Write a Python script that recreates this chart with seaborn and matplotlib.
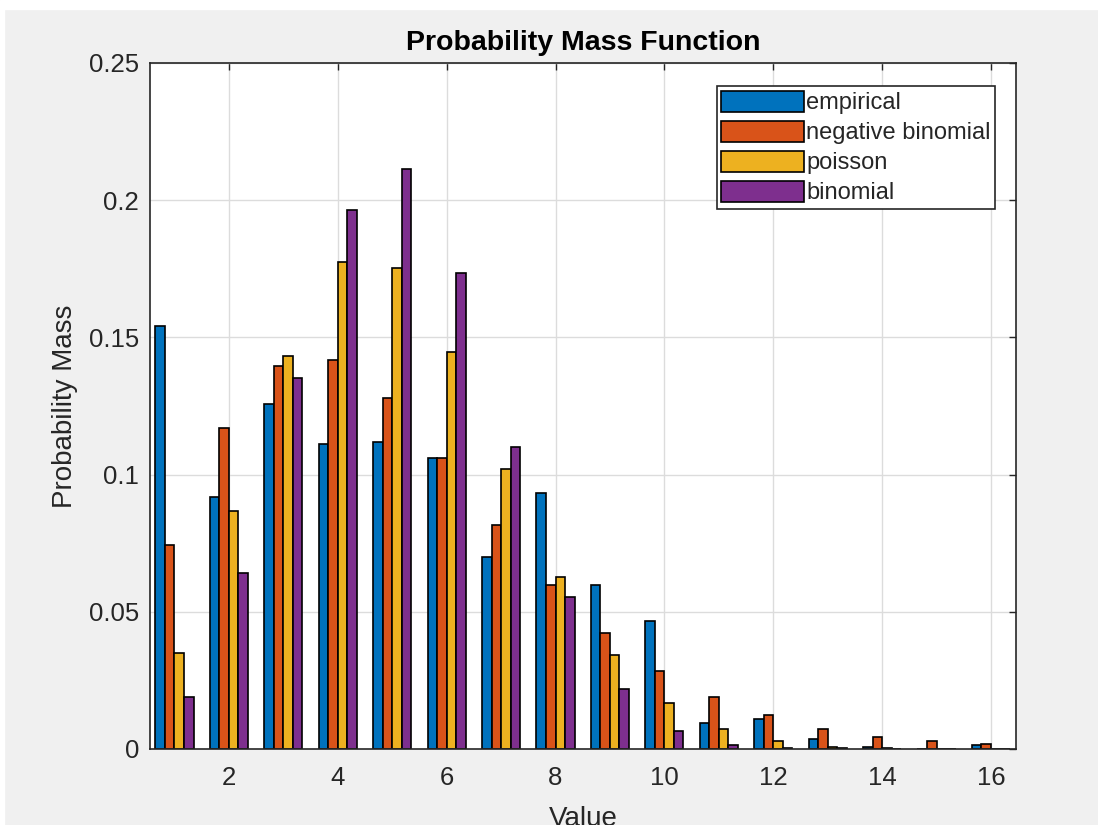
import matplotlib
matplotlib.use("Agg")
import matplotlib.pyplot as plt
import matplotlib.patches as mpatches
import pandas as pd
import seaborn as sns

# PMF values, one list per model
values = list(range(1, 17))
empirical = [0.1542, 0.0920, 0.1256, 0.1110, 0.1117, 0.1059, 0.0700, 0.0933,
             0.0596, 0.0467, 0.0095, 0.0109, 0.0037, 0.0008, 0.0000, 0.0016]
neg_binomial = [0.0744, 0.1170, 0.1395, 0.1418, 0.1279, 0.1059, 0.0816, 0.0596,
                0.0422, 0.0284, 0.0189, 0.0124, 0.0073, 0.0045, 0.0028, 0.0017]
poisson = [0.0350, 0.0869, 0.1431, 0.1776, 0.1753, 0.1448, 0.1021, 0.0626,
           0.0341, 0.0166, 0.0072, 0.0028, 0.0009, 0.0002, 0.0000, 0.0000]
binomial = [0.0190, 0.0643, 0.1352, 0.1966, 0.2112, 0.1734, 0.1100, 0.0554,
            0.0217, 0.0065, 0.0014, 0.0003, 0.0002, 0.0000, 0.0000, 0.0000]
series_names = ["empirical", "negative binomial", "poisson", "binomial"]
colors = ["#0072BD", "#D95319", "#EDB120", "#7E2F8E"]

frames = []
for name, vals in zip(series_names, [empirical, neg_binomial, poisson, binomial]):
    frames.append(pd.DataFrame({"Value": values, "mass": vals, "model": name}))
df = pd.concat(frames, ignore_index=True)

sns.set_style("white")
plt.rcParams["font.family"] = ["Liberation Sans", "DejaVu Sans"]
text_color = "#262626"

fig = plt.figure(figsize=(10.98, 8.25), dpi=100, facecolor="#f0f0f0")
# thin white margin visible at the top and left of the screenshot
fig.patches.append(mpatches.Rectangle((0, 1 - 9 / 825), 1, 9 / 825,
                                      transform=fig.transFigure, color="white", zorder=-1))
fig.patches.append(mpatches.Rectangle((0, 0), 4 / 1098, 1,
                                      transform=fig.transFigure, color="white", zorder=-1))

ax = fig.add_axes([150 / 1098, 1 - 749 / 825, 866 / 1098, 686 / 825])
sns.barplot(
    data=df, x="Value", y="mass", hue="model",
    hue_order=series_names, palette=colors,
    native_scale=True, width=0.7, gap=0, errorbar=None,
    edgecolor="black", linewidth=1.2, saturation=1, ax=ax,
)

ax.set_xlim(0.55, 16.46)
ax.set_ylim(0, 0.25)
ax.set_xticks(range(2, 17, 2))
ax.set_yticks([0, 0.05, 0.1, 0.15, 0.2, 0.25])
ax.set_yticklabels(["0", "0.05", "0.1", "0.15", "0.2", "0.25"])
ax.grid(True, color="#dcdcdc", linewidth=1)
ax.set_axisbelow(True)
for s in ax.spines.values():
    s.set_color(text_color)
    s.set_linewidth(1.2)
ax.tick_params(axis="both", direction="in", length=5, width=1,
               top=True, right=True, colors=text_color, labelsize=18.5)
ax.tick_params(axis="x", pad=12)
ax.tick_params(axis="y", pad=8)

ax.set_xlabel("Value", fontsize=20, color=text_color, labelpad=12)
ax.set_ylabel("Probability Mass", fontsize=20, color=text_color, labelpad=8)
ax.set_title("Probability Mass Function", fontsize=20.5, fontweight="bold",
             color="black", pad=9)

handles, labels = ax.get_legend_handles_labels()
leg = ax.legend(
    handles, labels, loc="upper right", bbox_to_anchor=(0.976, 0.966),
    borderaxespad=0, fontsize=17, frameon=True, fancybox=False,
    framealpha=1, edgecolor=text_color, handlelength=3.5, handleheight=1.0,
    handletextpad=0.12, labelspacing=0.27, borderpad=0.18,
)
leg.get_frame().set_linewidth(1.2)
for t in leg.get_texts():
    t.set_color(text_color)

fig.savefig("out.png", dpi=100, facecolor=fig.get_facecolor())
